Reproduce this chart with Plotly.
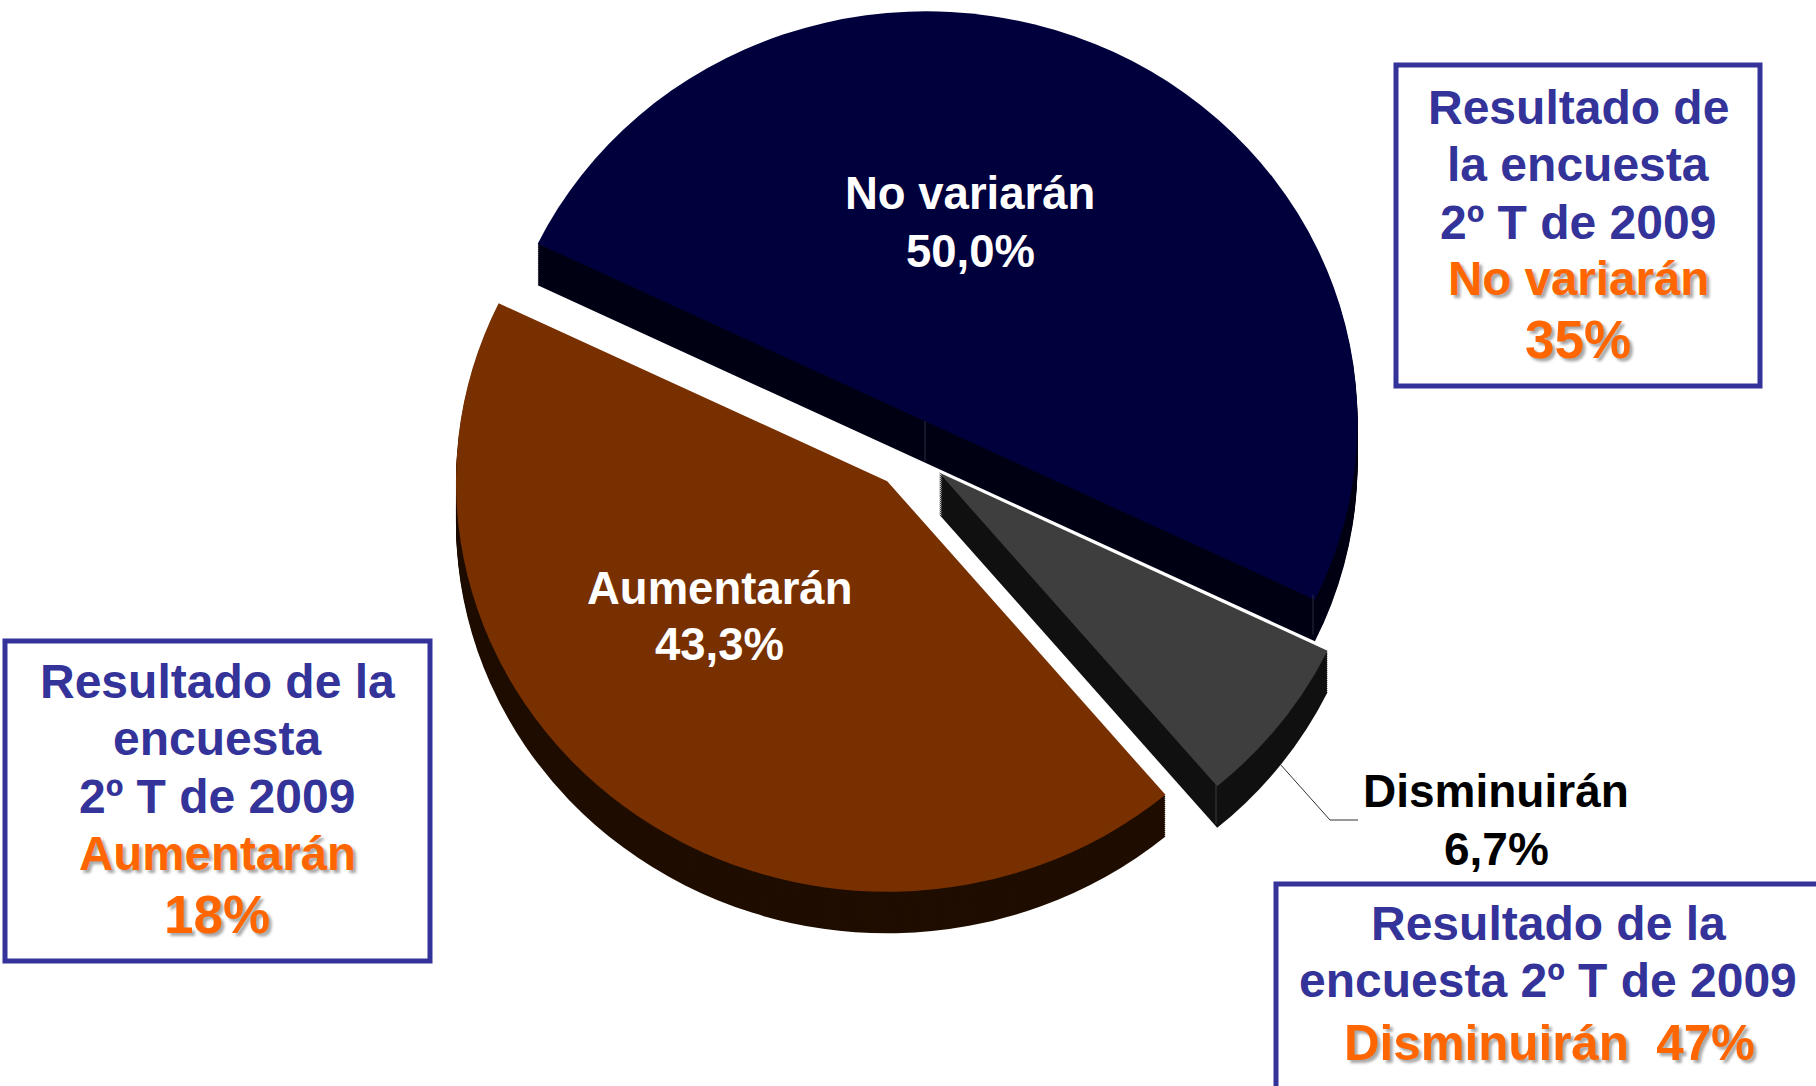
import plotly.graph_objects as go

W, H = 1816, 1086

categories = ["No variarán", "Disminuirán", "Aumentarán"]
values = [50.0, 6.7, 43.3]
slice_labels = ["50,0%", "6,7%", "43,3%"]
top_colors = ["#00003c", "#3e3e3e", "#783000"]
wall_colors = ["#000014", "#111111", "#1f0d00"]
pulls = [0.082, 0.082, 0.09]

box_no_variaran = ["Resultado de", "la encuesta", "2º T de 2009", "No variarán", "35%"]
box_aumentaran = ["Resultado de la", "encuesta", "2º T de 2009", "Aumentarán", "18%"]
box_disminuiran = ["Resultado de la", "encuesta 2º T de 2009", "Disminuirán  47%"]

BLUE = "#333399"
ORANGE = "#ff6600"
FONT = "Liberation Sans"
SHADOW = "3px 3px 3px rgba(0,0,0,0.35)"


def px(x):
    return x / W


def py(y):
    return 1 - y / H


PIE_CX, PIE_CY, PIE_D = 911, 452, 904
DEPTH = 42
ROTATION = 295.7
# the reference pie is a slightly flattened ellipse
STRETCH_X, STRETCH_Y = 1.04, 0.99


def pie(colors, dy):
    return go.Pie(
        labels=categories, values=values, sort=False, direction="clockwise",
        rotation=ROTATION, pull=pulls, textinfo="none", hoverinfo="skip",
        showlegend=False,
        marker=dict(colors=colors, line=dict(width=0)),
        domain=dict(
            x=[px(PIE_CX - PIE_D / 2), px(PIE_CX + PIE_D / 2)],
            y=[py(PIE_CY + PIE_D / 2 + dy), py(PIE_CY - PIE_D / 2 + dy)],
        ),
    )


fig = go.Figure()
for d in range(DEPTH, 0, -2):
    fig.add_trace(pie(wall_colors, d))
fig.add_trace(pie(top_colors, 0))

annotations = []


def text(x, y, s, size, color, shadow=None):
    font = dict(family=FONT, size=size, color=color, weight="bold")
    if shadow:
        font["shadow"] = shadow
    annotations.append(dict(
        x=px(x), y=py(y), xref="paper", yref="paper", text=s, showarrow=False,
        xanchor="center", yanchor="middle", font=font,
    ))


text(970, 193, categories[0], 45.5, "white")
text(970, 251, slice_labels[0], 45.5, "white")
text(719, 588, categories[2], 45.5, "white")
text(719, 644, slice_labels[2], 45.5, "white")
text(1496, 791, categories[1], 46, "black")
text(1496, 849, slice_labels[1], 46, "black")

for s, y, i in zip(box_no_variaran, [107, 164, 222, 279, 339], range(5)):
    if i < 3:
        text(1578, y, s, 48, BLUE)
    else:
        text(1578, y, s, 47.5 if i == 3 else 53, ORANGE, SHADOW)
for s, y, i in zip(box_aumentaran, [681, 738, 796, 853, 914], range(5)):
    if i < 3:
        text(217, y, s, 48, BLUE)
    else:
        text(217, y, s, 47.5 if i == 3 else 53, ORANGE, SHADOW)
for s, y, i in zip(box_disminuiran, [923, 980, 1042], range(3)):
    if i < 2:
        text(1548, y, s, 48, BLUE)
    else:
        text(1549, y, s, 49.3, ORANGE, SHADOW)


def rect(x0, y0, x1, y1):
    return dict(type="rect", xref="paper", yref="paper", x0=px(x0), x1=px(x1),
                y0=py(y0), y1=py(y1), line=dict(color=BLUE, width=5),
                fillcolor="rgba(0,0,0,0)")


def edge(x, y0, y1, color):
    return dict(type="line", xref="paper", yref="paper", x0=px(x), x1=px(x),
                y0=py(y0), y1=py(y1), line=dict(color=color, width=1))


shapes = [
    rect(1396, 65, 1760, 386),
    rect(5, 641, 430, 961),
    rect(1276, 884, 1830, 1100),
    dict(type="path", xref="paper", yref="paper",
         path=f"M {px(1280)} {py(764)} L {px(1330)} {py(820)} L {px(1358)} {py(820)}",
         line=dict(color="#333333", width=1), fillcolor="rgba(0,0,0,0)"),
    edge(925, 421, 461, "#2a2a40"),
    edge(1313, 595, 635, "#2a2a40"),
    edge(1216, 783, 824, "#3a3a3a"),
]

fig.update_layout(
    width=W, height=H, autosize=False,
    margin=dict(l=0, r=0, t=0, b=0),
    paper_bgcolor="white", plot_bgcolor="white",
    annotations=annotations, shapes=shapes,
)

css = (
    "body{margin:0;overflow:hidden}"
    f".pielayer{{transform-origin:{PIE_CX}px {PIE_CY}px;"
    f"transform:scale({STRETCH_X},{STRETCH_Y})}}"
)
fig.write_html(
    "out.html",
    config={"displayModeBar": False},
    post_script=(
        "var s=document.createElement('style');"
        f"s.textContent={css!r};"
        "document.head.appendChild(s);"
    ),
)
